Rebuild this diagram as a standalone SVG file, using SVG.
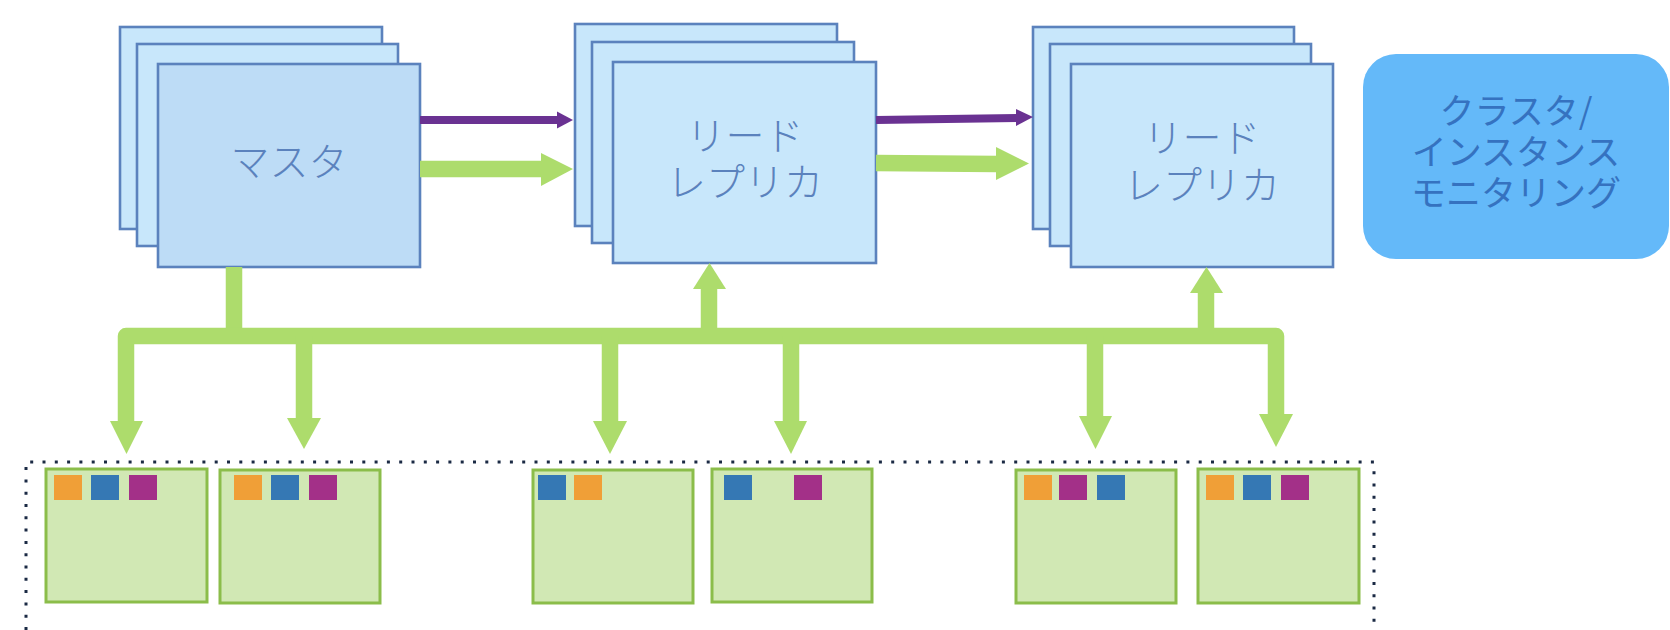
<svg xmlns="http://www.w3.org/2000/svg" width="1670" height="630" viewBox="0 0 1670 630">
<style>
.bk{fill:#c8e7fb;stroke:#5b82bd;stroke-width:2.6}
.fm{fill:#bddcf6;stroke:#5b82bd;stroke-width:2.6}
.lbl{font-family:"Noto Sans CJK JP","Noto Sans",sans-serif;font-size:39px;font-weight:300;fill:#5b82bd;text-anchor:middle}
.mon{font-family:"Noto Sans CJK JP","Noto Sans",sans-serif;font-size:35px;font-weight:400;fill:#3572c0;text-anchor:middle}
.gb{fill:#d1e8b4;stroke:#8bbd4a;stroke-width:3}
.or{fill:#f09f37}.bl{fill:#3578b4}.pu{fill:#a33088}
.gl{stroke:#addc6c;fill:none;stroke-width:16.5}
.gh{fill:#addc6c}
.pl{stroke:#6a3292;stroke-width:8;fill:none}
.ph{fill:#6a3292}
</style>
<rect width="1670" height="630" fill="#ffffff"/>
<g id="master">
<rect class="bk" x="120" y="27" width="262" height="202"/>
<rect class="bk" x="137" y="44" width="261" height="202"/>
<rect class="fm" x="158" y="64" width="262" height="203"/>
<text class="lbl" x="289" y="176">マスタ</text>
</g>
<g id="replica1">
<rect class="bk" x="575" y="24" width="262" height="202"/>
<rect class="bk" x="592" y="42" width="262" height="201"/>
<rect class="bk" x="613" y="62" width="263" height="201"/>
<text class="lbl" x="745" y="150">リード</text>
<text class="lbl" x="745" y="196">レプリカ</text>
</g>
<g id="replica2">
<rect class="bk" x="1033" y="27" width="261" height="202"/>
<rect class="bk" x="1050" y="44" width="261" height="202"/>
<rect class="bk" x="1071" y="64" width="262" height="203"/>
<text class="lbl" x="1202" y="152">リード</text>
<text class="lbl" x="1202" y="199">レプリカ</text>
</g>
<g id="monitoring">
<rect x="1363" y="54" width="306" height="205" rx="33" fill="#64b9f9"/>
<text class="mon" x="1516" y="124">クラスタ/</text>
<text class="mon" x="1516" y="165">インスタンス</text>
<text class="mon" x="1516" y="206">モニタリング</text>
</g>
<g id="connectors">
<line class="pl" x1="420" y1="120" x2="558" y2="120"/>
<polygon class="ph" points="557,111.5 557,128.5 573,120"/>
<line class="gl" x1="420" y1="169" x2="542" y2="169"/>
<polygon class="gh" points="541,153 541,186 573,169"/>
<line class="pl" x1="876" y1="120" x2="1017" y2="118"/>
<polygon class="ph" points="1016,109 1016,126 1033,117"/>
<line class="gl" x1="876" y1="163" x2="997" y2="164"/>
<polygon class="gh" points="996,147 996,180 1029,163.5"/>
<line class="gl" x1="234" y1="267" x2="234" y2="336"/>
<path class="gl" d="M126,422 V336 H1276 V415" stroke-linejoin="round"/>
<polygon class="gh" points="110,421 143,421 126.5,454"/>
<line class="gl" x1="304" y1="336" x2="304" y2="419"/>
<polygon class="gh" points="287,418 321,418 304,449"/>
<line class="gl" x1="610" y1="336" x2="610" y2="422"/>
<polygon class="gh" points="593,421 627,421 610,454"/>
<line class="gl" x1="791" y1="336" x2="791" y2="422"/>
<polygon class="gh" points="774,421 807,421 791,454"/>
<line class="gl" x1="1095" y1="336" x2="1095" y2="417"/>
<polygon class="gh" points="1079,416 1112,416 1095.5,449"/>
<polygon class="gh" points="1259,414 1293,414 1276,447"/>
<line class="gl" x1="709" y1="336" x2="709" y2="288"/>
<polygon class="gh" points="693,289 726,289 709.5,263"/>
<line class="gl" x1="1206" y1="336" x2="1206" y2="292"/>
<polygon class="gh" points="1190,293 1223,293 1206.5,267"/>
</g>
<g id="cluster">
<path d="M26,630 V462 H1374 V630" fill="none" stroke="#1b2a44" stroke-width="3" stroke-dasharray="3 9.3"/>
</g>
<g id="inst1">
<rect class="gb" x="46" y="469" width="161" height="133"/>
<rect class="or" x="54" y="475" width="28" height="25"/>
<rect class="bl" x="91" y="475" width="28" height="25"/>
<rect class="pu" x="129" y="475" width="28" height="25"/>
</g>
<g id="inst2">
<rect class="gb" x="220" y="470" width="160" height="133"/>
<rect class="or" x="234" y="475" width="28" height="25"/>
<rect class="bl" x="271" y="475" width="28" height="25"/>
<rect class="pu" x="309" y="475" width="28" height="25"/>
</g>
<g id="inst3">
<rect class="gb" x="533" y="470" width="160" height="133"/>
<rect class="bl" x="538" y="475" width="28" height="25"/>
<rect class="or" x="574" y="475" width="28" height="25"/>
</g>
<g id="inst4">
<rect class="gb" x="712" y="469" width="160" height="133"/>
<rect class="bl" x="724" y="475" width="28" height="25"/>
<rect class="pu" x="794" y="475" width="28" height="25"/>
</g>
<g id="inst5">
<rect class="gb" x="1016" y="470" width="160" height="133"/>
<rect class="or" x="1024" y="475" width="28" height="25"/>
<rect class="pu" x="1059" y="475" width="28" height="25"/>
<rect class="bl" x="1097" y="475" width="28" height="25"/>
</g>
<g id="inst6">
<rect class="gb" x="1198" y="469" width="161" height="134"/>
<rect class="or" x="1206" y="475" width="28" height="25"/>
<rect class="bl" x="1243" y="475" width="28" height="25"/>
<rect class="pu" x="1281" y="475" width="28" height="25"/>
</g>
</svg>
